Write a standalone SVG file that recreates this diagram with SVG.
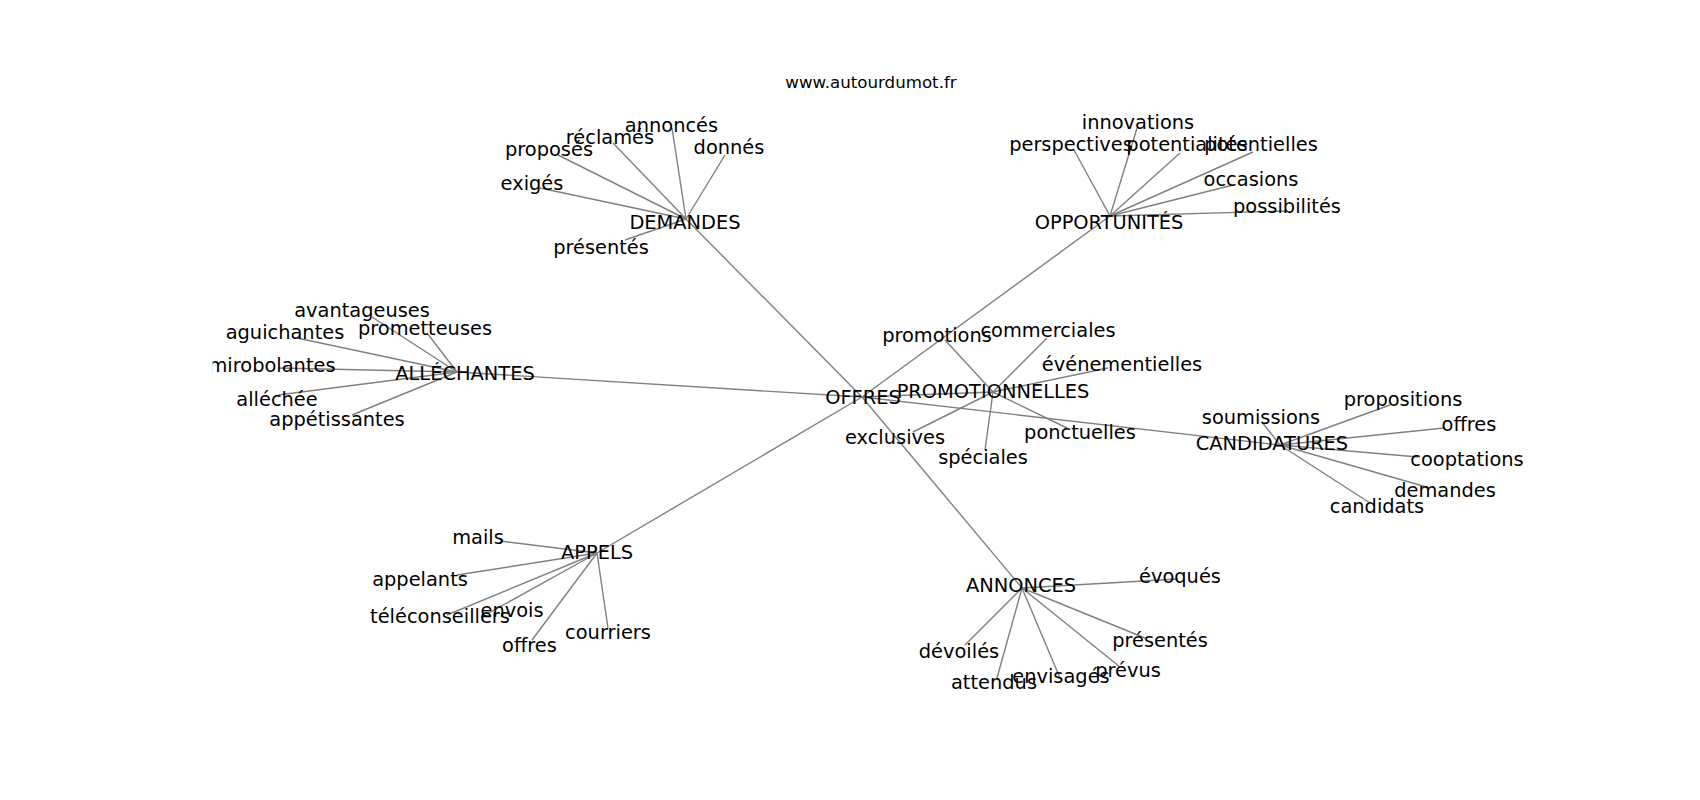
<svg xmlns="http://www.w3.org/2000/svg" width="1700" height="800" viewBox="0 0 1700 800">
<style>
.e{stroke:#808080;stroke-width:1.4;fill:none}
.t{font-family:"DejaVu Sans",sans-serif;font-size:19.4px;fill:#000;text-anchor:middle}
.title{font-family:"DejaVu Sans",sans-serif;font-size:16.67px;fill:#000;text-anchor:middle}
</style>
<defs><clipPath id="ax"><rect x="212.5" y="96" width="1317.5" height="616"/></clipPath></defs>
<rect width="1700" height="800" fill="#fff"/>
<text class="title" x="871" y="88">www.autourdumot.fr</text>
<g id="connectors" class="e">
<line x1="862" y1="397" x2="686" y2="219"/>
<line x1="862" y1="397" x2="1110" y2="216"/>
<line x1="862" y1="397" x2="457" y2="372"/>
<line x1="862" y1="397" x2="1280" y2="445"/>
<line x1="862" y1="397" x2="597" y2="553"/>
<line x1="862" y1="397" x2="1022" y2="588"/>
<line x1="862" y1="397" x2="993" y2="392"/>
<line x1="686" y1="219" x2="672" y2="128"/>
<line x1="686" y1="219" x2="613" y2="143"/>
<line x1="686" y1="219" x2="558" y2="155"/>
<line x1="686" y1="219" x2="725" y2="155"/>
<line x1="686" y1="219" x2="540" y2="188"/>
<line x1="686" y1="219" x2="625" y2="240"/>
<line x1="1110" y1="216" x2="1137" y2="128"/>
<line x1="1110" y1="216" x2="1074" y2="150"/>
<line x1="1110" y1="216" x2="1180" y2="153"/>
<line x1="1110" y1="216" x2="1253" y2="152"/>
<line x1="1110" y1="216" x2="1233" y2="185"/>
<line x1="1110" y1="216" x2="1285" y2="211"/>
<line x1="457" y1="372" x2="372" y2="317"/>
<line x1="457" y1="372" x2="297" y2="338"/>
<line x1="457" y1="372" x2="427" y2="333"/>
<line x1="457" y1="372" x2="278" y2="368"/>
<line x1="457" y1="372" x2="278" y2="395"/>
<line x1="457" y1="372" x2="352" y2="415"/>
<line x1="993" y1="392" x2="945" y2="340"/>
<line x1="993" y1="392" x2="1047" y2="338"/>
<line x1="993" y1="392" x2="1108" y2="368"/>
<line x1="993" y1="392" x2="913" y2="432"/>
<line x1="993" y1="392" x2="1067" y2="428"/>
<line x1="993" y1="392" x2="985" y2="450"/>
<line x1="1280" y1="445" x2="1262" y2="422"/>
<line x1="1280" y1="445" x2="1390" y2="405"/>
<line x1="1280" y1="445" x2="1444" y2="428"/>
<line x1="1280" y1="445" x2="1418" y2="457"/>
<line x1="1280" y1="445" x2="1430" y2="488"/>
<line x1="1280" y1="445" x2="1370" y2="503"/>
<line x1="597" y1="553" x2="500" y2="541"/>
<line x1="597" y1="553" x2="457" y2="575"/>
<line x1="597" y1="553" x2="447" y2="615"/>
<line x1="597" y1="553" x2="487" y2="614"/>
<line x1="597" y1="553" x2="532" y2="640"/>
<line x1="597" y1="553" x2="608" y2="628"/>
<line x1="1022" y1="588" x2="1178" y2="579"/>
<line x1="1022" y1="588" x2="1145" y2="638"/>
<line x1="1022" y1="588" x2="965" y2="645"/>
<line x1="1022" y1="588" x2="997" y2="678"/>
<line x1="1022" y1="588" x2="1060" y2="678"/>
<line x1="1022" y1="588" x2="1120" y2="667"/>
</g>
<g clip-path="url(#ax)" class="t">
<g id="n-offres"><text x="863" y="404">OFFRES</text></g>
<g id="n-demandes"><text x="685" y="228.5">DEMANDES</text></g>
<g id="n-annonces-d"><text x="671.5" y="132">annoncés</text></g>
<g id="n-reclames"><text x="610" y="144">réclamés</text></g>
<g id="n-proposes"><text x="549" y="156">proposés</text></g>
<g id="n-donnes"><text x="729" y="154">donnés</text></g>
<g id="n-exiges"><text x="532" y="190">exigés</text></g>
<g id="n-presentes-d"><text x="601" y="254">présentés</text></g>
<g id="n-opportunites"><text x="1109" y="228.5">OPPORTUNITÉS</text></g>
<g id="n-innovations"><text x="1138" y="129">innovations</text></g>
<g id="n-perspectives"><text x="1071" y="150.5">perspectives</text></g>
<g id="n-potentialites"><text x="1187" y="151">potentialités</text></g>
<g id="n-potentielles"><text x="1261" y="151">potentielles</text></g>
<g id="n-occasions"><text x="1251" y="186">occasions</text></g>
<g id="n-possibilites"><text x="1287" y="213">possibilités</text></g>
<g id="n-allechantes"><text x="465" y="380">ALLÉCHANTES</text></g>
<g id="n-avantageuses"><text x="362" y="316.5">avantageuses</text></g>
<g id="n-aguichantes"><text x="285" y="339">aguichantes</text></g>
<g id="n-prometteuses"><text x="425" y="335">prometteuses</text></g>
<g id="n-mirobolantes"><text x="272" y="371.5">mirobolantes</text></g>
<g id="n-allechee"><text x="277" y="406">alléchée</text></g>
<g id="n-appetissantes"><text x="337" y="425.5">appétissantes</text></g>
<g id="n-promotionnelles"><text x="993" y="397.5">PROMOTIONNELLES</text></g>
<g id="n-promotions"><text x="937" y="341.5">promotions</text></g>
<g id="n-commerciales"><text x="1048" y="336.5">commerciales</text></g>
<g id="n-evenementielles"><text x="1122" y="370.5">événementielles</text></g>
<g id="n-exclusives"><text x="895" y="444">exclusives</text></g>
<g id="n-ponctuelles"><text x="1080" y="439">ponctuelles</text></g>
<g id="n-speciales"><text x="983" y="464">spéciales</text></g>
<g id="n-candidatures"><text x="1272" y="450">CANDIDATURES</text></g>
<g id="n-soumissions"><text x="1261" y="424">soumissions</text></g>
<g id="n-propositions"><text x="1403" y="406">propositions</text></g>
<g id="n-offres-c"><text x="1469" y="430.5">offres</text></g>
<g id="n-cooptations"><text x="1467" y="466">cooptations</text></g>
<g id="n-demandes-c"><text x="1445" y="497">demandes</text></g>
<g id="n-candidats"><text x="1377" y="513">candidats</text></g>
<g id="n-appels"><text x="597" y="558.5">APPELS</text></g>
<g id="n-mails"><text x="478" y="544">mails</text></g>
<g id="n-appelants"><text x="420" y="586">appelants</text></g>
<g id="n-teleconseillers"><text x="440" y="623">téléconseillers</text></g>
<g id="n-envois"><text x="512" y="616.5">envois</text></g>
<g id="n-offres-a"><text x="529.5" y="651.5">offres</text></g>
<g id="n-courriers"><text x="608" y="639">courriers</text></g>
<g id="n-annonces"><text x="1021" y="592">ANNONCES</text></g>
<g id="n-evoques"><text x="1180" y="583">évoqués</text></g>
<g id="n-presentes-a"><text x="1160" y="646.5">présentés</text></g>
<g id="n-devoiles"><text x="959" y="658">dévoilés</text></g>
<g id="n-attendus"><text x="994" y="689">attendus</text></g>
<g id="n-envisages"><text x="1061" y="682.5">envisagés</text></g>
<g id="n-prevus"><text x="1128" y="677">prévus</text></g>
</g>
</svg>
